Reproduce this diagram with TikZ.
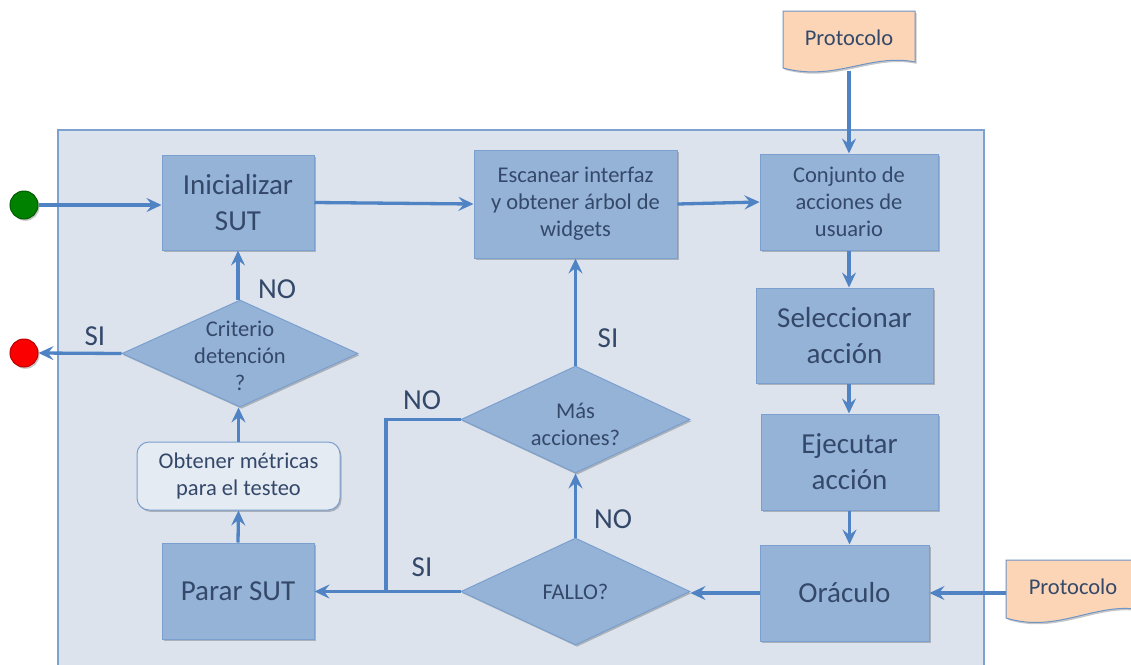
\documentclass[tikz,border=0pt]{standalone}
\usepackage{fontspec}
\setmainfont{Carlito}
\usetikzlibrary{arrows.meta,shapes.geometric,shadows}

\definecolor{panelfill}{RGB}{220,227,236}
\definecolor{panelline}{RGB}{126,162,208}
\definecolor{boxfill}{RGB}{149,179,215}
\definecolor{boxline}{RGB}{123,159,207}
\definecolor{flow}{RGB}{80,131,195}
\definecolor{ink}{RGB}{52,72,106}
\definecolor{docfill}{RGB}{251,213,181}
\definecolor{docline}{RGB}{111,148,198}
\definecolor{softfill}{RGB}{229,235,243}
\definecolor{startgreen}{RGB}{0,130,0}
\definecolor{stopred}{RGB}{250,0,0}

\tikzset{
  big/.style={font=\fontsize{29}{36}\selectfont, text=ink},
  mid/.style={font=\fontsize{22.5}{27}\selectfont, text=ink},
  softshadow/.style={drop shadow={shadow xshift=1.5pt, shadow yshift=-1.8pt, opacity=0.22, fill=black}},
  stepbox/.style={draw=boxline, line width=1pt, fill=boxfill, align=center,
    inner sep=0pt, softshadow},
  roundbox/.style={draw=boxline, line width=1pt, fill=softfill, align=center,
    inner sep=0pt, rounded corners=12pt, softshadow},
  decision/.style={shape=diamond, draw=boxline, line width=1pt, fill=boxfill,
    inner sep=0pt, softshadow},
  docshape/.style={draw=docline, line width=1pt, fill=docfill, softshadow},
  dot/.style={circle, minimum size=28pt, inner sep=0pt, line width=1pt, softshadow},
  link/.style={draw=flow, line width=3.3pt},
  flowarrow/.style={link, -{Stealth[length=15pt,width=14pt,inset=5.5pt]}},
  answer/.style={big},
}

\begin{document}
\begin{tikzpicture}[x=1pt,y=-1pt]
  \path[use as bounding box] (0,0) rectangle (1131,664);
  \clip (0,0) rectangle (1131,664);

  % grey panel holding the test loop
  \draw[panelline, fill=panelfill, line width=1.2pt] (58,130) rectangle (984,672);

  % protocol documents
  \draw[docshape] (783,11) -- (915,11) -- (915,62)
    .. controls (870,53) and (835,82) .. (783,68) -- cycle;
  \node[mid] (proto1) at (849,38) {Protocolo};
  \coordinate (proto1bot) at (849,71);

  \draw[docshape] (1006,560) -- (1142,560) -- (1142,610)
    .. controls (1096,601) and (1058,634) .. (1006,618) -- cycle;
  \node[mid] (proto2) at (1073,587) {Protocolo};
  \coordinate (proto2left) at (1006,593);

  % process steps
  \node[stepbox, big, minimum width=152pt, minimum height=95pt] (ini) at (238,202.5)
    {Inicializar\\SUT};
  \node[stepbox, mid, minimum width=203pt, minimum height=108pt] (esc) at (575.5,204)
    {Escanear interfaz\\y obtener árbol de\\widgets};
  \node[stepbox, mid, minimum width=178pt, minimum height=96pt] (conj) at (849,202)
    {Conjunto de\\acciones de\\usuario};
  \node[stepbox, big, minimum width=177pt, minimum height=95pt] (sel) at (844.5,335.5)
    {Seleccionar\\acción};
  \node[stepbox, big, minimum width=177pt, minimum height=96pt] (ejec) at (849.5,462)
    {Ejecutar\\acción};
  \node[stepbox, big, minimum width=169pt, minimum height=96pt] (orac) at (844.5,593)
    {Oráculo};
  \node[stepbox, big, minimum width=152pt, minimum height=96pt] (parar) at (238,591)
    {Parar SUT};
  \node[roundbox, mid, minimum width=203pt, minimum height=68pt] (metr) at (238.5,476)
    {Obtener métricas\\para el testeo};

  % decisions
  \node[decision, minimum width=236pt, minimum height=107pt] (crit) at (240,353.5) {};
  \node[mid, align=center] (critlbl) at (240,356) {Criterio\\detención\\?};
  \node[decision, minimum width=229pt, minimum height=107pt] (mas) at (575.5,419.5) {};
  \node[mid, align=center] (maslbl) at (575.5,424) {Más\\acciones?};
  \node[decision, minimum width=229pt, minimum height=107pt] (fallo) at (575.5,591.5) {};
  \node[mid] (fallolbl) at (575.5,592) {FALLO?};

  % start and end
  \node[dot, draw=startgreen!70!black, fill=startgreen] (start) at (24,205) {};
  \node[dot, draw=stopred!75!black, fill=stopred] (stop) at (24,353) {};

  % connectors
  \draw[flowarrow] (start) -- (start -| ini.west);
  \draw[flowarrow] (ini.east) -- (esc.west);
  \draw[flowarrow] (esc.east) -- (conj.west);
  \draw[flowarrow] (proto1bot) -- (conj.north);
  \draw[flowarrow] (conj.south) -- (conj.south |- sel.north);
  \draw[flowarrow] (sel.south -| conj.south) -- (conj.south |- ejec.north);
  \draw[flowarrow] (ejec.south) -- (ejec.south |- orac.north);
  \draw[flowarrow] (proto2left) -- (orac.east |- proto2left);
  \draw[flowarrow] (orac.west) -- (orac.west -| fallo.east);
  \draw[flowarrow] (fallo.north) -- (mas.south);
  \draw[flowarrow] (mas.north) -- (mas.north |- esc.south);
  \coordinate (join) at (386,591.5);
  \draw[link] (mas.west) -| (join);
  \draw[flowarrow] (fallo.west) -- (fallo.west -| parar.east);
  \draw[flowarrow] (parar.north) -- (metr.south);
  \draw[flowarrow] (metr.north) -- (metr.north |- crit.south);
  \draw[flowarrow] (crit.north -| ini.south) -- (ini.south);
  \draw[flowarrow] (crit.west) -- (stop.east);

  % branch answers
  \node[answer] (noCrit) at (277,289) {NO};
  \node[answer] (siCrit) at (95,336) {SI};
  \node[answer] (noMas) at (422,400) {NO};
  \node[answer] (siFallo) at (422,567) {SI};
  \node[answer] (siMas) at (608,338) {SI};
  \node[answer] (noFallo) at (613,519) {NO};
\end{tikzpicture}
\end{document}
